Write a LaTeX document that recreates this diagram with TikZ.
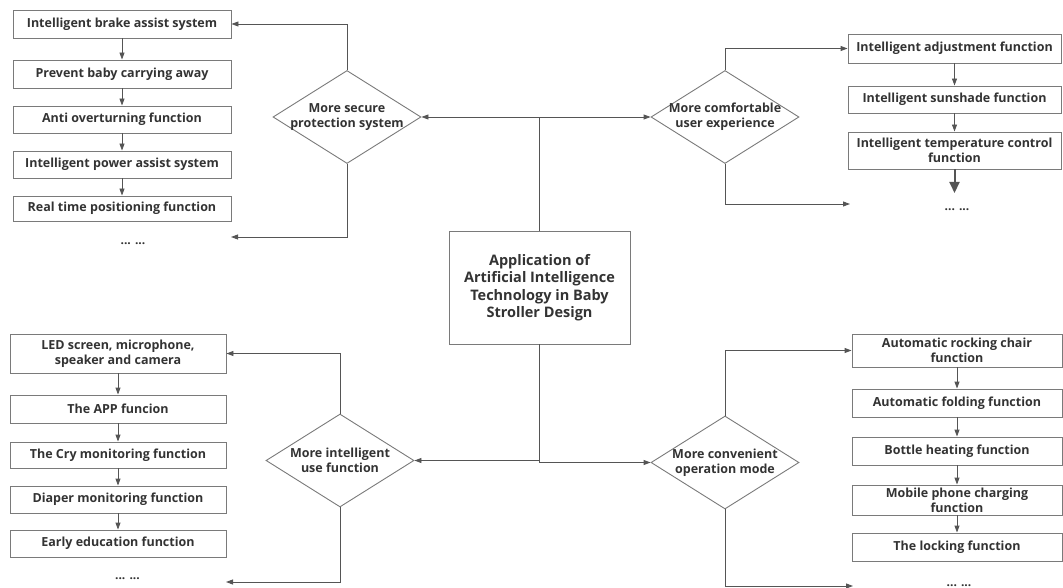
\documentclass[tikz,border=0pt]{standalone}
\usepackage{fontspec}
\setmainfont{Open Sans}
\usetikzlibrary{shapes.geometric,arrows.meta}

\definecolor{linegray}{HTML}{555555}
\definecolor{boxgray}{HTML}{7A7A7A}
\definecolor{textgray}{HTML}{333333}

\tikzset{
    funcbox/.style={draw=boxgray, line width=0.9pt, fill=white, text=textgray,
        font=\fontsize{12.5}{15}\selectfont\bfseries, align=center, inner sep=1pt,
        minimum height=27pt},
    choice/.style={draw=boxgray, line width=0.9pt, fill=white, shape=diamond,
        inner sep=0pt, minimum width=148pt, minimum height=93pt,
        label={[text=textgray, font=\fontsize{12.5}{15}\selectfont\bfseries, align=center]center:#1}},
    more/.style={text=textgray, font=\fontsize{12}{14}\selectfont\bfseries},
    arr/.style={draw=linegray, line width=0.9pt, -{Triangle[length=7pt,width=5pt]}}
}

\begin{document}
\begin{tikzpicture}[x=1pt, y=-1pt]
\useasboundingbox (0,0) rectangle (1063,588);

% Central topic
\node[funcbox, minimum width=181pt, minimum height=113pt, font=\fontsize{14.5}{17.5}\selectfont\bfseries]
    (topic) at (539.5,287.5) {Application of\\Artificial Intelligence\\Technology in Baby\\Stroller Design};

% The four directions
\node[choice={More secure\\protection system}]     (secure)  at (347,117)   {};
\node[choice={More comfortable\\user experience}]  (comfort) at (725,117)   {};
\node[choice={More intelligent\\use function}]     (smart)   at (340,460.5) {};
\node[choice={More convenient\\operation mode}]    (handy)   at (725,462.5) {};

% Protection functions (top left)
\node[funcbox, minimum width=218pt, minimum height=28pt] (s1) at (122,24)    {Intelligent brake assist system};
\node[funcbox, minimum width=218pt, minimum height=28pt] (s2) at (122,74)    {Prevent baby carrying away};
\node[funcbox, minimum width=218pt] (s3) at (122,119.5) {Anti overturning function};
\node[funcbox, minimum width=218pt] (s4) at (122,164.5) {Intelligent power assist system};
\node[funcbox, minimum width=218pt, minimum height=25pt] (s5) at (122,208.5) {Real time positioning function};
\node[more] (s6) at (133,244) {... ...};
\coordinate (s6end) at (231,237);

% Comfort functions (top right)
\node[funcbox, minimum width=213pt, minimum height=29pt] (c1) at (954.5,48.5)  {Intelligent adjustment function};
\node[funcbox, minimum width=213pt] (c2) at (954.5,99.5)  {Intelligent sunshade function};
\node[funcbox, minimum width=213pt, minimum height=37pt] (c3) at (954.5,150.5) {Intelligent temperature control\\function};
\node[more] (c4) at (957,210) {... ...};
\coordinate (c4end) at (850,204);
\coordinate (c3tip) at (954.5,193);

% Intelligent use functions (bottom left)
\node[funcbox, minimum width=216pt, minimum height=39pt] (u1) at (118,353.5) {LED screen, microphone,\\speaker and camera};
\node[funcbox, minimum width=216pt, minimum height=28pt] (u2) at (118,409)   {The APP funcion};
\node[funcbox, minimum width=216pt, minimum height=26pt] (u3) at (118,455)   {The Cry monitoring function};
\node[funcbox, minimum width=216pt] (u4) at (118,499.5) {Diaper monitoring function};
\node[funcbox, minimum width=216pt] (u5) at (118,543.5) {Early education function};
\node[more] (u6) at (127.5,579) {... ...};
\coordinate (u6end) at (226,582);

% Convenient operation functions (bottom right)
\node[funcbox, minimum width=210pt, minimum height=33pt] (o1) at (957,350.5) {Automatic rocking chair\\function};
\node[funcbox, minimum width=210pt, minimum height=28pt] (o2) at (957,403)   {Automatic folding function};
\node[funcbox, minimum width=210pt, minimum height=28pt] (o3) at (957,451)   {Bottle heating function};
\node[funcbox, minimum width=210pt, minimum height=30pt] (o4) at (957,500)   {Mobile phone charging\\function};
\node[funcbox, minimum width=210pt, minimum height=28pt] (o5) at (957,547)   {The locking function};
\node[more] (o6) at (959,586) {... ...};
\coordinate (o6end) at (853,586);

% From the topic to the directions
\draw[arr] (topic.north) |- (secure.east);
\draw[arr] (topic.north) |- (comfort.west);
\draw[arr] (topic.south) |- (smart.east);
\draw[arr] (topic.south) |- (handy.west);

% From the directions to their lists
\draw[arr] (secure.north) |- (s1.east);
\draw[arr] (secure.south) |- (s6end);
\draw[arr] (comfort.north) |- (c1.west);
\draw[arr] (comfort.south) |- (c4end);
\draw[arr] (smart.north) |- (u1.east);
\draw[arr] (smart.south) |- (u6end);
\draw[arr] (handy.north) |- (o1.west);
\draw[arr] (handy.south) |- (o6end);

% Chains inside each list
\foreach \a/\b in {s1/s2, s2/s3, s3/s4, s4/s5, c1/c2, c2/c3, u1/u2, u2/u3, u3/u4, u4/u5, o1/o2, o2/o3, o3/o4, o4/o5} {
    \draw[arr] (\a.south) -- (\b.north);
}
\draw[draw=linegray, line width=2pt, -{Triangle[length=11pt,width=10pt]}] (c3.south) -- (c3tip);

\end{tikzpicture}
\end{document}
